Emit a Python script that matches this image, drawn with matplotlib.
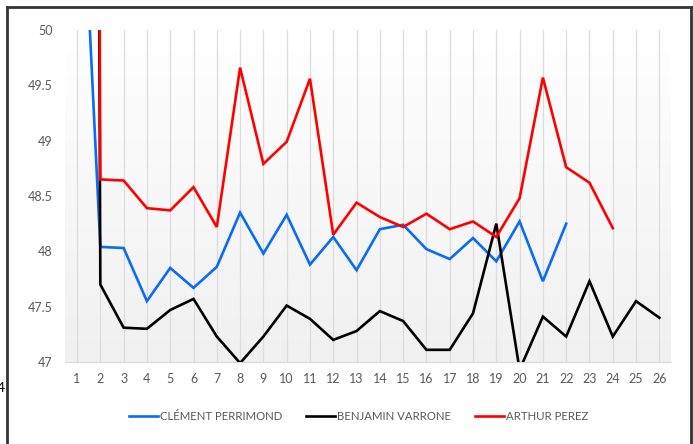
import matplotlib
matplotlib.use("Agg")
import matplotlib.pyplot as plt
import numpy as np
from matplotlib.lines import Line2D
from matplotlib.colors import LinearSegmentedColormap

categories = list(range(1, 27))
clement = [52.4, 48.04, 48.03, 47.55, 47.85, 47.67, 47.86, 48.35, 47.98, 48.33,
           47.88, 48.13, 47.83, 48.20, 48.24, 48.02, 47.93, 48.12, 47.91, 48.27,
           47.73, 48.25, None, None, None, None]
benjamin = [100.0, 47.70, 47.31, 47.30, 47.47, 47.57, 47.23, 46.99, 47.23, 47.51,
            47.39, 47.20, 47.28, 47.46, 47.37, 47.11, 47.11, 47.44, 48.25, 46.93,
            47.41, 47.23, 47.73, 47.23, 47.55, 47.40]
arthur = [100.0, 48.65, 48.64, 48.39, 48.37, 48.58, 48.22, 49.66, 48.79, 48.99,
          49.56, 48.15, 48.44, 48.31, 48.22, 48.34, 48.20, 48.27, 48.13, 48.48,
          49.57, 48.76, 48.62, 48.21, None, None]
series_names = ["CLÉMENT PERRIMOND", "BENJAMIN VARRONE", "ARTHUR PEREZ"]
colors = ["#0a6cf5", "#000000", "#ff0000"]
yticks = [47, 47.5, 48, 48.5, 49, 49.5, 50]
ytick_labels = ["47", "47.5", "48", "48.5", "49", "49.5", "50"]

plt.rcParams['font.family'] = ['Lato', 'DejaVu Sans']

W, H = 693, 444
fig = plt.figure(figsize=(W / 100, H / 100), dpi=100)
fig.patch.set_facecolor("white")

ax = fig.add_axes([65.4 / W, 1 - 362 / H, (671 - 65.4) / W, (362 - 30) / H])
ax.set_xlim(0.5, 26.5)
ax.set_ylim(47, 50)

# gradient background of plot area
grad = np.linspace(0, 1, 256).reshape(-1, 1)
cmap = LinearSegmentedColormap.from_list("g", ["#f0f0f0", "#ffffff"])
ax.imshow(grad, extent=[0.5, 26.5, 47, 50], origin="lower", aspect="auto",
          cmap=cmap, zorder=0)

for c in categories:
    ax.plot([c, c], [47, 50], color="#dcdcdc", lw=0.9, zorder=1)

def to_arr(v):
    return np.array([np.nan if x is None else x for x in v], dtype=float)

for data, col, name in zip([clement, benjamin, arthur], colors, series_names):
    ax.plot(categories, to_arr(data), color=col, lw=1.9, label=name, zorder=3,
            solid_joinstyle="miter")

for s in ["top", "right", "left"]:
    ax.spines[s].set_visible(False)
ax.spines["bottom"].set_color("#d9d9d9")
ax.spines["bottom"].set_linewidth(0.9)

ax.set_yticks(yticks)
ax.set_yticklabels(ytick_labels)
ax.set_xticks(categories)
ax.set_xticklabels([str(c) for c in categories])
ax.tick_params(axis="both", length=0, labelsize=9, labelcolor="#595959")
ax.tick_params(axis="y", pad=9)
ax.tick_params(axis="x", pad=8)

handles = [Line2D([0], [0], color=c, lw=1.9) for c in colors]
fig.legend(handles, series_names, loc="center", bbox_to_anchor=(358.5 / W, 1 - 416 / H),
           ncol=3, frameon=False, fontsize=8.2, handlelength=2.55, handletextpad=0.18,
           columnspacing=2.1, labelcolor="#595959")

# frame borders
fc = "#333333"
fig.add_artist(Line2D([7 / W, 691 / W], [1 - 7.5 / H, 1 - 7.5 / H], color=fc, lw=2,
                      transform=fig.transFigure))
fig.add_artist(Line2D([7 / W, 7 / W], [0, 1 - 7.5 / H], color=fc, lw=2,
                      transform=fig.transFigure))
fig.add_artist(Line2D([691 / W, 691 / W], [0, 1 - 7.5 / H], color=fc, lw=2,
                      transform=fig.transFigure))
fig.text(-3 / W, 1 - 388 / H, "4", fontsize=10, color="#000000", va="center", ha="left")

fig.savefig("out.png", dpi=100, facecolor="white")
